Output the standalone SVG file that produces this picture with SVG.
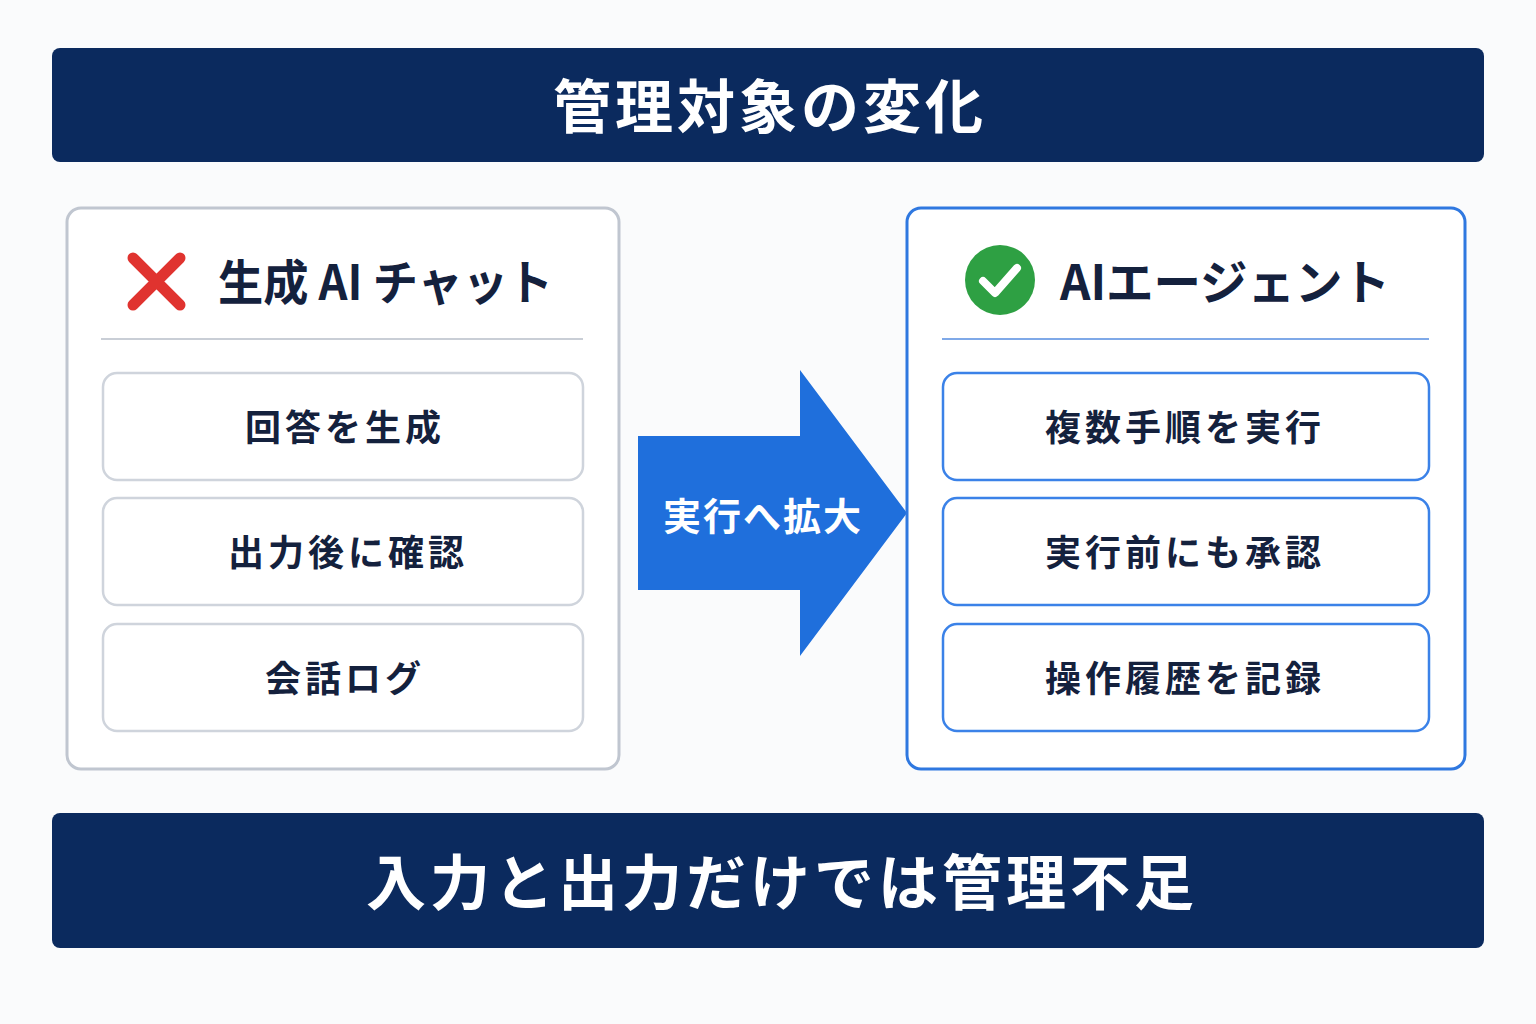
<svg xmlns="http://www.w3.org/2000/svg" width="1536" height="1024" viewBox="0 0 1536 1024">
<style>
text{font-family:"Noto Sans CJK JP","Noto Sans",sans-serif;font-weight:700}
.banner{fill:#0b2a5e}
.bt{fill:#fff;text-anchor:middle}
.title{fill:#14213d;font-size:48px}
.item{font-size:36px;fill:#14213d;text-anchor:middle;letter-spacing:4px}
.li{fill:#fff;stroke:#cfd4dc;stroke-width:2.5}
.ri{fill:#fff;stroke:#3b82e8;stroke-width:2.5}
</style>
<rect width="1536" height="1024" fill="#fafbfc"/>
<g id="header"><rect class="banner" x="52" y="48" width="1432" height="114" rx="8"/>
<text class="bt" x="770" y="128" font-size="58" letter-spacing="4">管理対象の変化</text></g>
<g id="left">
<rect x="67" y="208" width="552" height="561" rx="14" fill="#fff" stroke="#c0c6d0" stroke-width="3"/>
<path d="M133 258 L180 305 M180 258 L133 305" stroke="#e0332f" stroke-width="11" stroke-linecap="round"/>
<text class="title" x="218" y="300" textLength="335" lengthAdjust="spacingAndGlyphs">生成 AI チャット</text>
<line x1="101" y1="339" x2="583" y2="339" stroke="#c9ced6" stroke-width="2"/>
<rect class="li" x="103" y="373" width="480" height="107" rx="14"/><text class="item" x="345" y="441">回答を生成</text>
<rect class="li" x="103" y="498" width="480" height="107" rx="14"/><text class="item" x="348" y="566">出力後に確認</text>
<rect class="li" x="103" y="624" width="480" height="107" rx="14"/><text class="item" x="345" y="692">会話ログ</text>
</g>
<g id="connectors">
<path d="M638 436 H800 V370 L907 513 L800 656 V590 H638 Z" fill="#1f6fdc"/>
<text class="bt" x="763" y="530" font-size="38" letter-spacing="2">実行へ拡大</text>
</g>
<g id="right">
<rect x="907" y="208" width="558" height="561" rx="14" fill="#fff" stroke="#2f78e0" stroke-width="3"/>
<circle cx="1000" cy="280" r="35" fill="#2ea043"/>
<path d="M983 281 L995 293 L1017 268" stroke="#fff" stroke-width="8" fill="none" stroke-linecap="round" stroke-linejoin="round"/>
<text class="title" x="1060" y="300" textLength="330" lengthAdjust="spacingAndGlyphs">AIエージェント</text>
<line x1="942" y1="339" x2="1429" y2="339" stroke="#7fa9e8" stroke-width="2"/>
<rect class="ri" x="943" y="373" width="486" height="107" rx="14"/><text class="item" x="1185" y="441">複数手順を実行</text>
<rect class="ri" x="943" y="498" width="486" height="107" rx="14"/><text class="item" x="1185" y="566">実行前にも承認</text>
<rect class="ri" x="943" y="624" width="486" height="107" rx="14"/><text class="item" x="1185" y="692">操作履歴を記録</text>
</g>
<g id="footer"><rect class="banner" x="52" y="813" width="1432" height="135" rx="8"/>
<text class="bt" x="782" y="905" font-size="60" letter-spacing="4">入力と出力だけでは管理不足</text></g>
</svg>
